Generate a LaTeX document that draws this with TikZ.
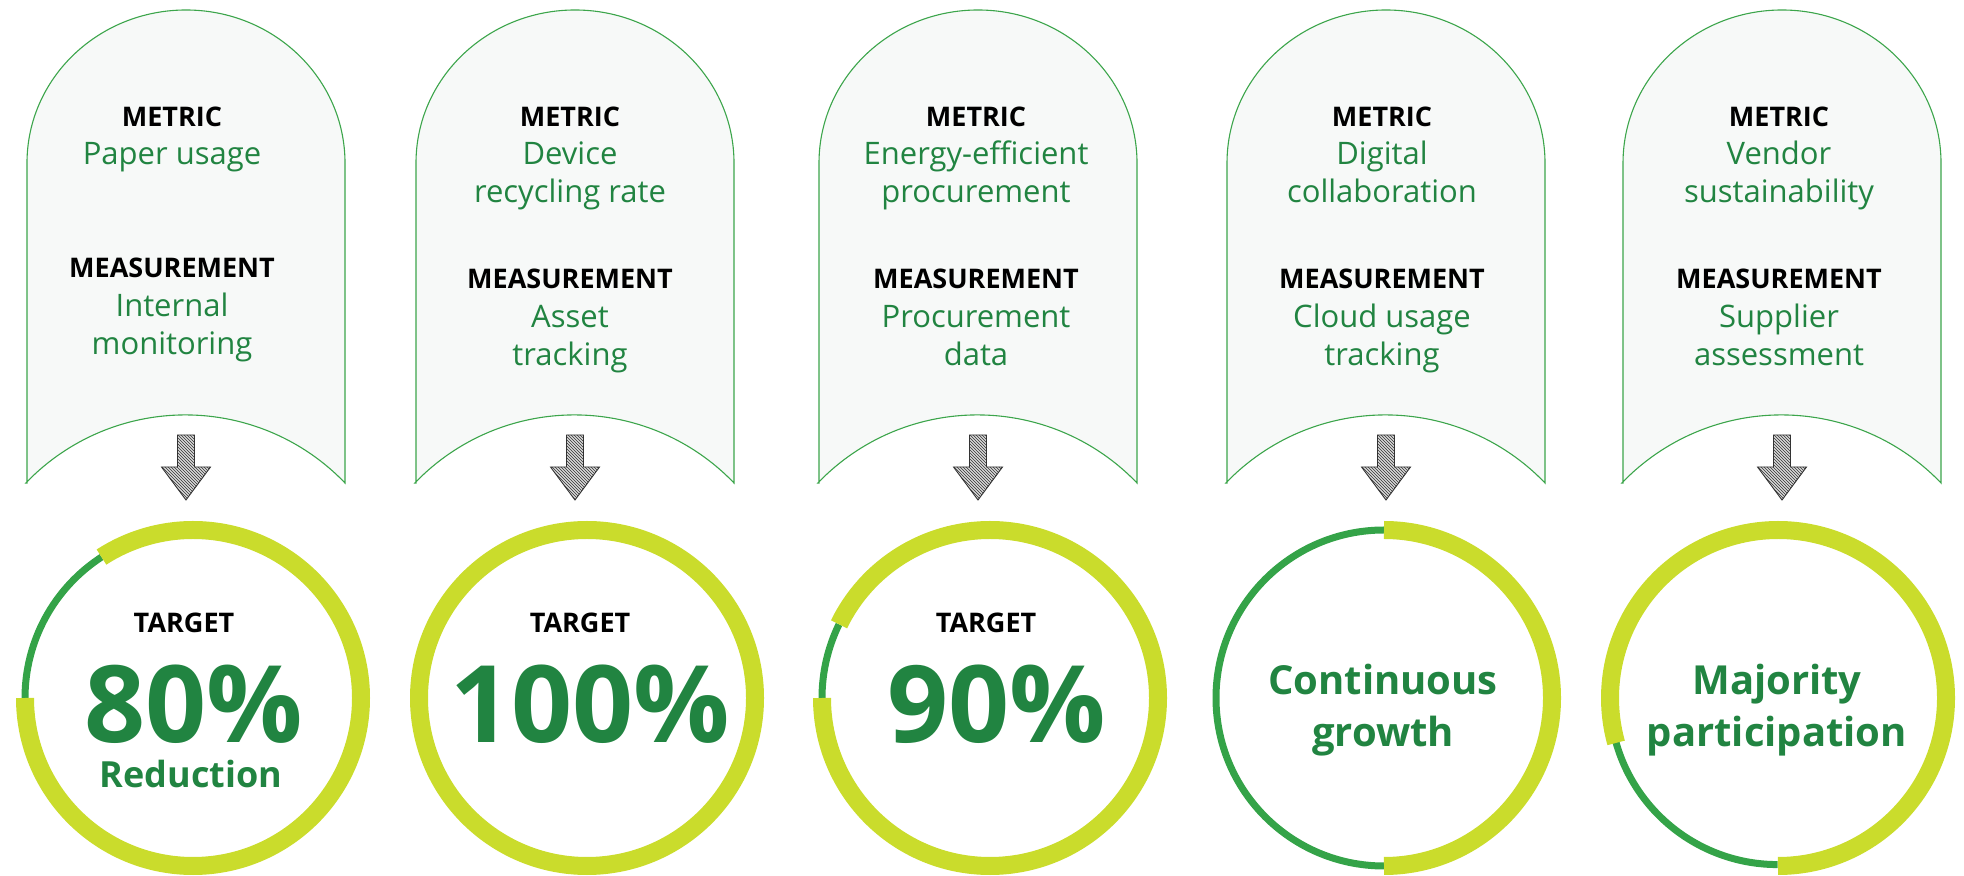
\documentclass[tikz,border=0pt]{standalone}
\usepackage{fontspec}
\setmainfont{Open Sans}
\usetikzlibrary{patterns}

\definecolor{limeclr}{RGB}{202,220,44}
\definecolor{ringgreen}{RGB}{52,163,72}
\definecolor{textgreen}{RGB}{33,132,65}
\definecolor{boxfill}{RGB}{247,249,248}
\definecolor{boxline}{RGB}{60,165,75}

\begin{document}
\begin{tikzpicture}[x=1pt,y=1pt]
  \tikzset{cardbox/.style = {draw=boxline, line width=1.1pt, fill=boxfill}}
  \tikzset{tagword/.style = {font=\bfseries\fontsize{27}{32}\selectfont, text=black, inner sep=0pt, anchor=base}}
  \tikzset{tagvalue/.style = {font=\fontsize{31}{38}\selectfont, text=textgreen, inner sep=0pt, anchor=base, align=center}}
  \tikzset{sketcharrow/.style = {draw=black!80, line width=0.9pt, fill=gray!30, postaction={pattern=north west lines, pattern color=black!80}}}
  \tikzset{ringnode/.style = {circle, minimum size=336pt, inner sep=0pt, outer sep=0pt}}
  \tikzset{ringfull/.style = {draw=limeclr, line width=18pt}}
  \tikzset{ringpart/.style = {draw=ringgreen, line width=7pt}}
  \tikzset{bigfigure/.style = {font=\bfseries\fontsize{107}{120}\selectfont, text=textgreen, inner sep=0pt, anchor=base}}
  \tikzset{goalword/.style = {font=\bfseries\fontsize{40}{52}\selectfont, text=textgreen, inner sep=0pt, anchor=base, align=center}}

  \useasboundingbox (0,0) rectangle (1964,875);

  % cards with metric and measurement (base = last line)
  \foreach \n/\cx/\tx/\mv/\my/\metric/\measure in {
      1/186/172/710/11/{Paper usage}/{Internal\\monitoring},
      2/575/570/672/0/{Device\\recycling rate}/{Asset\\tracking},
      3/978/976/672/0/{Energy-efficient\\procurement}/{Procurement\\data},
      4/1386/1382/672/0/{Digital\\collaboration}/{Cloud usage\\tracking},
      5/1782/1779/672/0/{Vendor\\sustainability}/{Supplier\\assessment}}
  {
    \draw[cardbox] (\cx-159,392) -- (\cx-159,712)
      arc[start angle=180, end angle=0, x radius=159, y radius=153]
      -- (\cx+159,392) arc[start angle=43.8, end angle=136.2, radius=221.1] -- cycle;
    \node[tagword] (metric\n) at (\tx,748.5) {METRIC};
    \node[tagvalue] (metricval\n) at (\tx,\mv) {\metric};
    \node[tagword] (measure\n) at (\tx,586+\my) {MEASUREMENT};
    \node[tagvalue] (measureval\n) at (\tx,509+\my) {\measure};
    \draw[sketcharrow] (\cx-8.5,440) -- (\cx+8.5,440) -- (\cx+8.5,408) -- (\cx+24.5,408)
      -- (\cx,375) -- (\cx-24.5,408) -- (\cx-8.5,408) -- cycle;
  }

  % target rings
  \foreach \n/\rx/\a/\b in {1/193/123/180, 2/587/180/180, 3/990/154/180, 4/1384/90/270, 5/1778/195.5/270}
  {
    \node[ringnode] (ring\n) at (\rx,177) {};
    \draw[ringpart] (ring\n.\a) arc[start angle=\a, end angle=\b, radius=168];
    \draw[ringfull] (ring\n.\b) arc[start angle=\b, end angle=\a+360, radius=168];
  }

  \node[tagword] (target1) at (184,242) {TARGET};
  \node[bigfigure] (figure1) at (194,132) {80\%};
  \node[goalword, font=\bfseries\fontsize{36}{42}\selectfont] (note1) at (191,87) {Reduction};

  \node[tagword] (target2) at (580,242) {TARGET};
  \node[bigfigure] (figure2) at (590,132) {100\%};

  \node[tagword] (target3) at (986,242) {TARGET};
  \node[bigfigure] (figure3) at (997,132) {90\%};

  \node[goalword] (note4) at (1383,128) {Continuous\\growth};
  \node[goalword] (note5) at (1777,128) {Majority\\participation};
\end{tikzpicture}
\end{document}
